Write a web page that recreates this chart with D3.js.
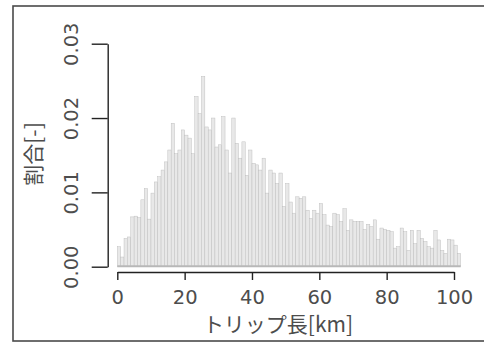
<!DOCTYPE html>
<html>
<head>
<meta charset="utf-8">
<script src="https://cdn.jsdelivr.net/npm/d3@7"></script>
<style>
  body { margin: 0; background: #fff; }
  svg { display: block; }
  .tick text { font-family: "DejaVu Sans", Verdana, sans-serif; }
</style>
</head>
<body>
<div id="chart"></div>
<script>
// histogram of trip length, 1 km bins starting at 0
const binWidth = 1
const shares = [
  0.0027, 0.0013, 0.0038, 0.0040, 0.0067, 0.0068, 0.0066, 0.0090, 0.0105, 0.0064,
  0.0099, 0.0114, 0.0121, 0.0130, 0.0141, 0.0157, 0.0193, 0.0152, 0.0157, 0.0184,
  0.0177, 0.0173, 0.0152, 0.0229, 0.0206, 0.0256, 0.0188, 0.0184, 0.0200, 0.0161,
  0.0164, 0.0202, 0.0157, 0.0126, 0.0200, 0.0166, 0.0146, 0.0168, 0.0123, 0.0157,
  0.0139, 0.0137, 0.0130, 0.0146, 0.0099, 0.0130, 0.0126, 0.0112, 0.0126, 0.0081,
  0.0112, 0.0087, 0.0072, 0.0094, 0.0092, 0.0094, 0.0076, 0.0065, 0.0076, 0.0072,
  0.0085, 0.0070, 0.0056, 0.0054, 0.0072, 0.0070, 0.0061, 0.0078, 0.0049, 0.0063,
  0.0061, 0.0061, 0.0061, 0.0050, 0.0057, 0.0054, 0.0063, 0.0037, 0.0052, 0.0050,
  0.0049, 0.0047, 0.0025, 0.0027, 0.0052, 0.0047, 0.0022, 0.0049, 0.0031, 0.0049,
  0.0038, 0.0034, 0.0027, 0.0025, 0.0049, 0.0036, 0.0022, 0.0018, 0.0037, 0.0036,
  0.0029, 0.0018
]
const xTicks = [0, 20, 40, 60, 80, 100]
const yTicks = [0, 0.01, 0.02, 0.03]
const xTitle = "トリップ長[km]"
const yTitle = "割合[-]"

const width = 484, height = 343
const textColor = "#4d4d4d"

const svg = d3.select("#chart")
  .append("svg")
    .attr("width", width)
    .attr("height", height)

// outer frame (runs off the right edge)
svg.append("rect")
  .attr("x", 13).attr("y", 6)
  .attr("width", 500).attr("height", 335)
  .attr("fill", "none")
  .attr("stroke", "#4a4a4a")
  .attr("stroke-width", 1.6)

const x = d3.scaleLinear().domain([0, 100]).range([117.3, 454])
const y = d3.scaleLinear().domain([0, 0.03]).range([266.7, 43.7])

// bars
svg.append("g")
  .selectAll("rect")
  .data(shares)
  .join("rect")
    .attr("x", (d, i) => x(i * binWidth))
    .attr("width", x(binWidth) - x(0))
    .attr("y", d => y(d))
    .attr("height", d => y(0) - y(d))
    .attr("fill", "#e8e8e8")
    .attr("stroke", "#bcbcbc")
    .attr("stroke-width", 0.45)

// bottom edges of the bars merge into one grey band
svg.append("line")
  .attr("x1", x(0)).attr("x2", x(shares.length * binWidth))
  .attr("y1", y(0) - 0.5).attr("y2", y(0) - 0.5)
  .attr("stroke", "#b8b8b8")
  .attr("stroke-width", 2)

// x axis
const xAxis = svg.append("g")
  .attr("transform", "translate(0,272)")
  .call(d3.axisBottom(x).tickValues(xTicks).tickSize(8).tickSizeOuter(0).tickPadding(10))
xAxis.select(".domain").attr("stroke", "#222").attr("stroke-width", 1.4)
xAxis.selectAll(".tick line").attr("stroke", "#222").attr("stroke-width", 1.4)
xAxis.selectAll(".tick text")
  .attr("font-size", 19.5).attr("fill", textColor)

// y axis
const yAxis = svg.append("g")
  .attr("transform", "translate(107.7,0)")
  .call(d3.axisLeft(y).tickValues(yTicks).tickSize(16).tickSizeOuter(0)
    .tickFormat(d3.format(".2f")))
yAxis.select(".domain").attr("stroke", "#222").attr("stroke-width", 1.4)
yAxis.selectAll(".tick line").attr("stroke", "#222").attr("stroke-width", 1.4)
yAxis.selectAll(".tick text")
  .attr("font-size", 19.5).attr("fill", textColor)
  .attr("x", null)
  .attr("text-anchor", "middle")
  .attr("transform", "translate(-37,0) rotate(-90)")
  .attr("dy", "0.35em")

// axis titles
svg.append("text")
  .attr("x", 278).attr("y", 325)
  .attr("dy", "0.35em")
  .attr("text-anchor", "middle")
  .attr("font-family", "'Noto Sans CJK JP', sans-serif")
  .attr("font-size", 21)
  .attr("fill", textColor)
  .text(xTitle)

svg.append("text")
  .attr("transform", "translate(34,154) rotate(-90)")
  .attr("dy", "0.35em")
  .attr("text-anchor", "middle")
  .attr("font-family", "'Noto Sans CJK JP', sans-serif")
  .attr("font-size", 21)
  .attr("fill", textColor)
  .text(yTitle)
</script>
</body>
</html>
